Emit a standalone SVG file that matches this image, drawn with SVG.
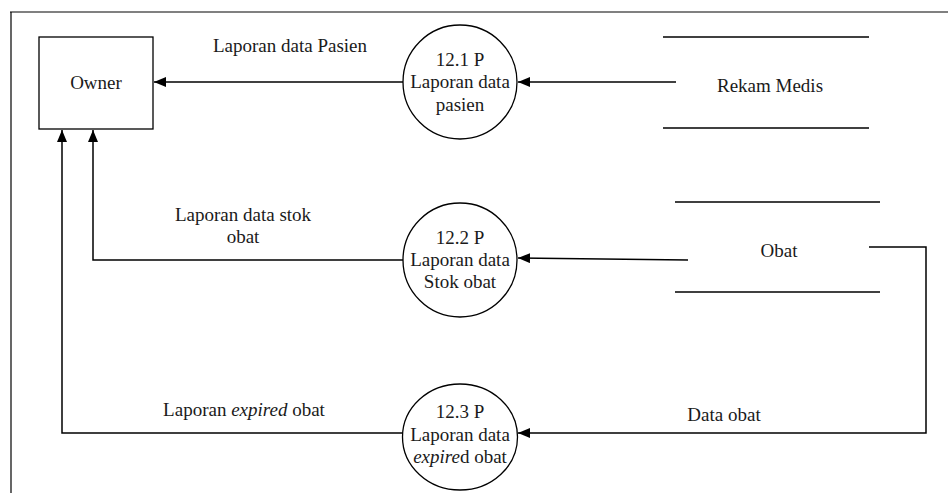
<svg xmlns="http://www.w3.org/2000/svg" width="948" height="493" viewBox="0 0 948 493">
<style>
text{font-family:'Liberation Serif','Times New Roman','DejaVu Serif',serif;font-size:19px;fill:#1a1a1a}
.c{text-anchor:middle}
.ln{stroke:#000;stroke-width:1.5;fill:none}
.sh{stroke:#000;stroke-width:1.3;fill:#fff}
.st{stroke:#000;stroke-width:1.5}
</style>
<defs>
<marker id="ah" viewBox="0 0 12 10" refX="12" refY="5" markerWidth="12" markerHeight="10" markerUnits="userSpaceOnUse" orient="auto">
<path d="M0,0 L12,5 L0,10 Z" fill="#000"/>
</marker>
</defs>
<rect width="948" height="493" fill="#fff"/>
<g id="frame">
<line x1="10" y1="12" x2="948" y2="12" stroke="#808080" stroke-width="2"/>
<line x1="11" y1="12" x2="11" y2="493" stroke="#000" stroke-width="1.2"/>
</g>
<g id="connectors">
<line class="ln" x1="403" y1="82" x2="154" y2="82" marker-end="url(#ah)"/>
<polyline class="ln" points="403,260 93,260 93,130" marker-end="url(#ah)"/>
<polyline class="ln" points="403,433 62,433 62,130" marker-end="url(#ah)"/>
<line class="ln" x1="676" y1="82" x2="518" y2="82" marker-end="url(#ah)"/>
<line class="ln" x1="688" y1="260" x2="518" y2="258" marker-end="url(#ah)"/>
<polyline class="ln" points="869,247 926,247 926,433 518,433" marker-end="url(#ah)"/>
<text x="290" y="52" class="c">Laporan data Pasien</text>
<text x="243" y="221" class="c">Laporan data stok</text>
<text x="243" y="243" class="c">obat</text>
<text x="244" y="416" class="c">Laporan <tspan font-style="italic">expired</tspan> obat</text>
<text x="724" y="421" class="c">Data obat</text>
</g>
<g id="owner">
<rect class="sh" x="39" y="37" width="114" height="92"/>
<text x="96" y="89" class="c">Owner</text>
</g>
<g id="p121">
<circle class="sh" cx="460" cy="82" r="57"/>
<text x="460" y="66" class="c">12.1 P</text>
<text x="460" y="88" class="c">Laporan data</text>
<text x="460" y="111" class="c">pasien</text>
</g>
<g id="p122">
<circle class="sh" cx="460" cy="260" r="57"/>
<text x="460" y="244" class="c">12.2 P</text>
<text x="460" y="266" class="c">Laporan data</text>
<text x="460" y="288" class="c">Stok obat</text>
</g>
<g id="p123">
<ellipse class="sh" cx="460" cy="437" rx="57.5" ry="53"/>
<text x="460" y="418" class="c">12.3 P</text>
<text x="460" y="441" class="c">Laporan data</text>
<text x="460" y="463" class="c"><tspan font-style="italic">expire</tspan>d obat</text>
</g>
<g id="rekam-medis">
<line class="st" x1="663" y1="37" x2="869" y2="37"/>
<line class="st" x1="663" y1="128" x2="869" y2="128"/>
<text x="770" y="92" class="c">Rekam Medis</text>
</g>
<g id="obat">
<line class="st" x1="675" y1="202" x2="880" y2="202"/>
<line class="st" x1="675" y1="292" x2="880" y2="292"/>
<text x="779" y="257" class="c">Obat</text>
</g>
</svg>
